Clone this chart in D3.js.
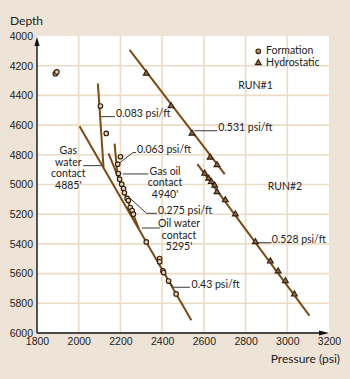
<!DOCTYPE html>
<html>
<head>
<meta charset="utf-8">
<script src="https://cdn.jsdelivr.net/npm/d3@7"></script>
<style>
  body { margin: 0; background: #ede3d6; }
  svg { display: block; font-family: Lato, "Open Sans", sans-serif; }
  .tick-label { font-size: 10.5px; fill: #222; }
  .note { font-size: 10.5px; fill: #222; }
  .leader { stroke: #222; stroke-width: 0.9; fill: none; }
  .grad { stroke: #7a4b14; stroke-width: 2; fill: none; }
</style>
</head>
<body>
<div id="chart"></div>
<script>
const margin = { top: 36, right: 21, bottom: 46, left: 37 };
const W = 350, H = 379;

const xTicks = [1800, 2000, 2200, 2400, 2600, 2800, 3000, 3200];
const yTicks = [4000, 4200, 4400, 4600, 4800, 5000, 5200, 5400, 5600, 5800, 6000];

// formation pressure points [psi, depth ft]
const formation = [
  [1888, 4254], [1895, 4242], [2104, 4472], [2132, 4656],
  [2200, 4813], [2187, 4863], [2190, 4926], [2196, 4964],
  [2206, 4998], [2215, 5027], [2219, 5056], [2232, 5094],
  [2238, 5108], [2247, 5155], [2256, 5175], [2262, 5200],
  [2324, 5387], [2388, 5499], [2388, 5521], [2404, 5582],
  [2407, 5593], [2431, 5650], [2467, 5737],
];

// hydrostatic (mud) pressure, RUN#1 and RUN#2
const hydroRun1 = [[2324, 4252], [2443, 4472], [2543, 4656], [2630, 4818], [2663, 4868]];
const hydroRun2 = [
  [2604, 4926], [2623, 4959], [2636, 4982], [2652, 5006], [2663, 5050],
  [2703, 5105], [2751, 5200], [2847, 5387], [2919, 5517], [2956, 5584],
  [2991, 5649], [3034, 5739],
];

// fitted gradient lines
const gradients = [
  { name: "run1", pts: [[2244, 4094], [2700, 4930]] },
  { name: "run2", pts: [[2569, 4863], [3106, 5883]] },
  { name: "gas1", pts: [[2092, 4320], [2119, 4885]] },
  { name: "gas2", pts: [[2172, 4725], [2186, 4940]] },
  { name: "oil", pts: [[2143, 4790], [2288, 5295]] },
  { name: "water", pts: [[2004, 4607], [2540, 5914]] },
];

// annotation texts: [psi, depth] of text anchor, lines, anchor type
const notes = [
  { at: [2179, 4545], lines: ["0.083 psi/ft"], anchor: "start" },
  { at: [2279, 4785], lines: ["0.063 psi/ft"], anchor: "start" },
  { at: [2414, 4934], lines: ["Gas oil", "contact", "4940'"], anchor: "middle" },
  { at: [2380, 5196], lines: ["0.275 psi/ft"], anchor: "start" },
  { at: [2481, 5288], lines: ["Oil water", "contact", "5295'"], anchor: "middle" },
  { at: [2541, 5694], lines: ["0.43 psi/ft"], anchor: "start" },
  { at: [2669, 4640], lines: ["0.531 psi/ft"], anchor: "start" },
  { at: [2925, 5393], lines: ["0.528 psi/ft"], anchor: "start" },
  { at: [2765, 4354], lines: ["RUN#1"], anchor: "start" },
  { at: [2906, 5037], lines: ["RUN#2"], anchor: "start" },
  { at: [1950, 4795], lines: ["Gas", "water", "contact", "4885'"], anchor: "middle" },
];

const leaders = [
  [[2107, 4543], [2174, 4543]],
  [[2191, 4860], [2260, 4785], [2275, 4785]],
  [[2211, 4929], [2334, 4929]],
  [[2237, 5081], [2325, 5194], [2375, 5194]],
  [[2303, 5293], [2390, 5293]],
  [[2430, 5643], [2454, 5692], [2534, 5692]],
  [[2554, 4638], [2665, 4638]],
  [[2853, 5392], [2924, 5392]],
  [[2022, 4873], [2107, 4873]],
];

const width = W - margin.left - margin.right;
const height = H - margin.top - margin.bottom;
const xScale = d3.scaleLinear().domain([1800, 3200]).range([0, width]);
const yScale = d3.scaleLinear().domain([4000, 6000]).range([0, height]);

const svg = d3.select("#chart").append("svg")
  .attr("width", W).attr("height", H);
svg.append("rect").attr("width", W).attr("height", H).attr("fill", "#ede3d6");
const g = svg.append("g").attr("transform", `translate(${margin.left},${margin.top})`);

const drawGrid = () => {
  g.append("rect").attr("width", width).attr("height", height).attr("fill", "#fff");
  g.append("g").selectAll("line").data(xTicks.slice(1, -1)).enter().append("line")
    .attr("x1", (d) => xScale(d)).attr("x2", (d) => xScale(d))
    .attr("y1", 0).attr("y2", height)
    .attr("stroke", "#ecdcc6").attr("stroke-width", 1.6);
  g.append("g").selectAll("line").data(yTicks.slice(1, -1)).enter().append("line")
    .attr("y1", (d) => yScale(d)).attr("y2", (d) => yScale(d))
    .attr("x1", 0).attr("x2", width)
    .attr("stroke", "#ecdcc6").attr("stroke-width", 1.6);
};

const drawAxis = () => {
  const xAxis = g.append("g").attr("transform", `translate(0,${height})`)
    .call(d3.axisBottom(xScale).tickValues(xTicks).tickFormat(d3.format("d")).tickSize(0).tickPadding(5));
  xAxis.select(".domain").remove();
  xAxis.selectAll("text").attr("class", "tick-label").attr("font-size", null).attr("font-family", null);
  const yAxis = g.append("g")
    .call(d3.axisLeft(yScale).tickValues(yTicks).tickFormat(d3.format("d")).tickSize(0).tickPadding(4));
  yAxis.select(".domain").remove();
  yAxis.selectAll("text").attr("class", "tick-label").attr("font-size", null).attr("font-family", null);

  g.append("line").attr("x1", 0).attr("x2", 0).attr("y1", 4).attr("y2", height)
    .attr("stroke", "#111").attr("stroke-width", 1.4);
  g.append("line").attr("x1", 0).attr("x2", width - 5).attr("y1", height).attr("y2", height)
    .attr("stroke", "#111").attr("stroke-width", 1.4);
  g.append("path").attr("d", `M0,1 L-2.6,10 L2.6,10 Z`).attr("fill", "#111");
  g.append("path").attr("d", `M${width},${height} L${width - 10},${height - 2.6} L${width - 10},${height + 2.6} Z`)
    .attr("fill", "#111");

  svg.append("text").attr("x", 10).attr("y", 25).attr("font-size", 12).attr("fill", "#222").text("Depth");
  svg.append("text").attr("x", 340).attr("y", 363).attr("text-anchor", "end")
    .attr("font-size", 12).attr("fill", "#222").text("Pressure (psi)");
};

const drawLines = () => {
  const line = d3.line().x((d) => xScale(d[0])).y((d) => yScale(d[1]));
  g.append("g").selectAll("path").data(gradients).enter().append("path")
    .attr("class", "grad").attr("d", (d) => line(d.pts));
  g.append("g").selectAll("path").data(leaders).enter().append("path")
    .attr("class", "leader").attr("d", (d) => line(d));
};

const triangle = d3.symbol().type(d3.symbolTriangle).size(15);

const drawPoints = () => {
  g.append("g").selectAll("path").data(hydroRun1.concat(hydroRun2)).enter().append("path")
    .attr("d", triangle)
    .attr("transform", (d) => `translate(${xScale(d[0])},${yScale(d[1])})`)
    .attr("fill", "#8d6c46").attr("stroke", "#2e1c0c").attr("stroke-width", 1.1);
  g.append("g").selectAll("circle").data(formation).enter().append("circle")
    .attr("cx", (d) => xScale(d[0])).attr("cy", (d) => yScale(d[1])).attr("r", 2.3)
    .attr("fill", "#e2cfb2").attr("stroke", "#2e1c0c").attr("stroke-width", 1.1);
};

const drawNotes = () => {
  g.append("g").selectAll("text").data(notes).enter().append("text")
    .attr("class", "note")
    .attr("text-anchor", (d) => d.anchor)
    .attr("transform", (d) => `translate(${xScale(d.at[0])},${yScale(d.at[1])})`)
    .selectAll("tspan").data((d) => d.lines).enter().append("tspan")
    .attr("x", 0).attr("y", (t, i) => i * 11.5).text((t) => t);

  // legend
  const legend = g.append("g");
  legend.append("circle").attr("cx", xScale(2861)).attr("cy", yScale(4103)).attr("r", 2.3)
    .attr("fill", "#b89a72").attr("stroke", "#2e1c0c").attr("stroke-width", 1.1);
  legend.append("path").attr("d", triangle)
    .attr("transform", `translate(${xScale(2861)},${yScale(4181)})`)
    .attr("fill", "#8d6c46").attr("stroke", "#2e1c0c").attr("stroke-width", 1.1);
  legend.append("text").attr("class", "note").attr("x", xScale(2898)).attr("y", yScale(4122)).text("Formation");
  legend.append("text").attr("class", "note").attr("x", xScale(2898)).attr("y", yScale(4200)).text("Hydrostatic");
};

drawGrid();
drawAxis();
drawLines();
drawPoints();
drawNotes();
</script>
</body>
</html>
